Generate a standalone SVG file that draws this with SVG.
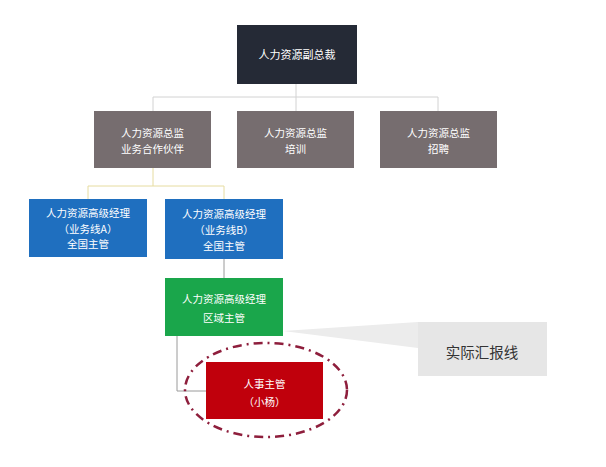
<svg xmlns="http://www.w3.org/2000/svg" width="606" height="467" viewBox="0 0 606 467">
<style>
.t{font-family:"Noto Sans CJK SC","Noto Sans",sans-serif;font-size:10.5px;fill:#ffffff;text-anchor:middle;dominant-baseline:central}
.g{fill:none;stroke:#d2d2d2;stroke-width:1}
.y{fill:none;stroke:#e6dca0;stroke-width:1}
.k{fill:none;stroke:#9a9a9a;stroke-width:1}
</style>
<rect width="606" height="467" fill="#ffffff"/>
<g id="connectors">
  <path class="g" d="M296 84V97M153 97H438M153 97V111M296 97V111M438 97V111"/>
  <path class="y" d="M153 168V186M88 186H224M88 186V199M224 186V199"/>
  <path class="k" d="M224 259V278"/>
  <path class="k" d="M177 336V391H206"/>
</g>
<g id="callout">
  <polygon points="283,331 418,322 418,348" fill="#ececec"/>
  <rect x="418" y="322" width="129" height="54" fill="#e6e6e6"/>
  <text x="482" y="351" style="font-family:'Noto Sans CJK SC','Noto Sans',sans-serif;font-size:14.5px;fill:#333333;text-anchor:middle;dominant-baseline:central">实际汇报线</text>
</g>
<g id="vp">
  <rect x="237" y="25" width="120" height="59" fill="#252a36"/>
  <text class="t" x="297" y="54" style="font-size:11px">人力资源副总裁</text>
</g>
<g id="hrbp">
  <rect x="94" y="111" width="117" height="57" fill="#766d6f"/>
  <text class="t" x="152.5" y="132">人力资源总监</text>
  <text class="t" x="152.5" y="148">业务合作伙伴</text>
</g>
<g id="training">
  <rect x="237" y="111" width="117" height="57" fill="#766d6f"/>
  <text class="t" x="295.5" y="132">人力资源总监</text>
  <text class="t" x="295.5" y="148">培训</text>
</g>
<g id="recruit">
  <rect x="380" y="111" width="117" height="57" fill="#766d6f"/>
  <text class="t" x="438.5" y="132">人力资源总监</text>
  <text class="t" x="438.5" y="148">招聘</text>
</g>
<g id="lineA">
  <rect x="29" y="199" width="118" height="58" fill="#1f6fbf"/>
  <text class="t" x="88" y="212">人力资源高级经理</text>
  <text class="t" x="88" y="228">（业务线A）</text>
  <text class="t" x="88" y="243">全国主管</text>
</g>
<g id="lineB">
  <rect x="165" y="199" width="118" height="60" fill="#1f6fbf"/>
  <text class="t" x="224" y="213">人力资源高级经理</text>
  <text class="t" x="224" y="229">（业务线B）</text>
  <text class="t" x="224" y="245">全国主管</text>
</g>
<g id="regional">
  <rect x="165" y="278" width="118" height="58" fill="#1aa64b"/>
  <text class="t" x="224" y="298">人力资源高级经理</text>
  <text class="t" x="224" y="317">区域主管</text>
</g>
<g id="hr">
  <rect x="206" y="362" width="117" height="57" fill="#c0000c"/>
  <text class="t" x="264.5" y="383">人事主管</text>
  <text class="t" x="264.5" y="401">（小杨）</text>
  <ellipse cx="266" cy="390" rx="81" ry="47" fill="none" stroke="#8e1e3c" stroke-width="2.5" stroke-dasharray="9,5,2,5"/>
</g>
</svg>
